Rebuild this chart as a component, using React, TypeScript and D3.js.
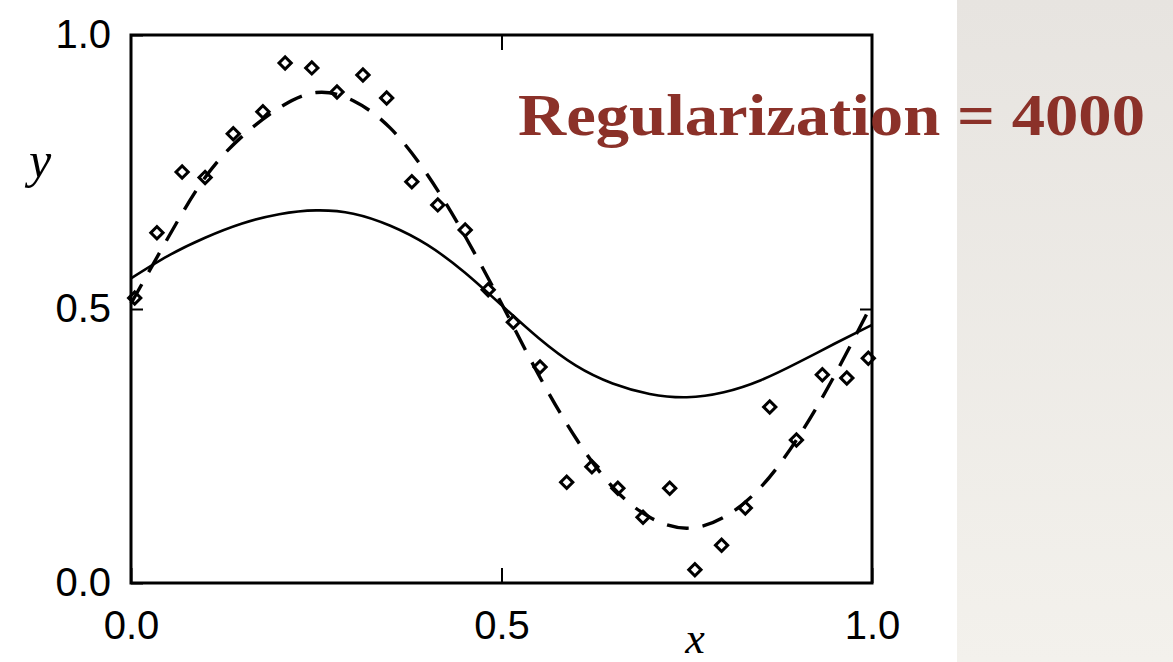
import React, { useEffect, useRef } from 'react';
import * as d3 from 'd3';

// canvas + plot box
const W = 1173;
const H = 662;
const plot = { left: 131, right: 872, top: 35, bottom: 583 };

// regularized fit (solid), sampled every 0.05
const fitX = [0, 0.05, 0.1, 0.15, 0.2, 0.25, 0.3, 0.35, 0.4, 0.45, 0.5, 0.55, 0.6, 0.65, 0.7, 0.75, 0.8, 0.85, 0.9, 0.95, 1.0];
const fitY = [0.556, 0.597, 0.63, 0.656, 0.673, 0.68, 0.674, 0.652, 0.617, 0.567, 0.507, 0.447, 0.397, 0.364, 0.345, 0.339, 0.348, 0.37, 0.402, 0.437, 0.471];

// underlying function (dashed)
const trueY = [0.51, 0.63, 0.74, 0.815, 0.867, 0.895, 0.88, 0.83, 0.745, 0.635, 0.51, 0.38, 0.265, 0.175, 0.12, 0.1, 0.12, 0.175, 0.265, 0.38, 0.51];

// noisy training points (diamonds)
const ptX = [0.005, 0.035, 0.069, 0.1, 0.138, 0.178, 0.208, 0.244, 0.278, 0.313, 0.345, 0.379, 0.414, 0.451, 0.482, 0.516, 0.552, 0.588, 0.622, 0.657, 0.691, 0.727, 0.761, 0.797, 0.829, 0.862, 0.898, 0.933, 0.966, 0.995];
const ptY = [0.52, 0.639, 0.75, 0.74, 0.82, 0.86, 0.949, 0.94, 0.896, 0.927, 0.885, 0.732, 0.69, 0.644, 0.535, 0.476, 0.394, 0.184, 0.212, 0.173, 0.12, 0.173, 0.024, 0.069, 0.137, 0.321, 0.261, 0.38, 0.374, 0.41];

const ticks = [0, 0.5, 1];
const title = 'Regularization = 4000';

export default function App() {
  const ref = useRef<SVGSVGElement>(null);

  useEffect(() => {
    const svg = d3.select(ref.current);
    svg.selectAll('*').remove();

    const x = d3.scaleLinear().domain([0, 1]).range([plot.left, plot.right]);
    const y = d3.scaleLinear().domain([0, 1]).range([plot.bottom, plot.top]);

    // paper background on the right
    const defs = svg.append('defs');
    const grad = defs.append('linearGradient').attr('id', 'paper').attr('x1', 0).attr('y1', 0).attr('x2', 0).attr('y2', 1);
    grad.append('stop').attr('offset', '0%').attr('stop-color', '#e7e4e0');
    grad.append('stop').attr('offset', '100%').attr('stop-color', '#f3f1ec');
    svg.append('rect').attr('width', W).attr('height', H).attr('fill', '#ffffff');
    svg.append('rect').attr('x', 957).attr('width', W - 957).attr('height', H).attr('fill', 'url(#paper)');

    const tickFont = '"Liberation Sans", Arial, sans-serif';

    // bottom axis with labels, ticks pointing in
    const bottom = svg.append('g').attr('transform', `translate(0,${plot.bottom})`)
      .call(d3.axisBottom(x).tickValues(ticks).tickSizeInner(-15).tickSizeOuter(0).tickPadding(28).tickFormat(d3.format('.1f')));
    bottom.select('.domain').remove();
    bottom.selectAll('.tick line').attr('stroke', '#000').attr('stroke-width', 2);
    bottom.selectAll('.tick text').attr('font-family', tickFont).attr('font-size', 40).attr('fill', '#000').attr('dy', '0.71em');

    const left = svg.append('g').attr('transform', `translate(${plot.left},0)`)
      .call(d3.axisLeft(y).tickValues(ticks).tickSizeInner(-12).tickSizeOuter(0).tickPadding(20).tickFormat(d3.format('.1f')));
    left.select('.domain').remove();
    left.selectAll('.tick line').attr('stroke', '#000').attr('stroke-width', 2);
    left.selectAll('.tick text').attr('font-family', tickFont).attr('font-size', 40).attr('fill', '#000');

    const top = svg.append('g').attr('transform', `translate(0,${plot.top})`)
      .call(d3.axisTop(x).tickValues([0.5]).tickSizeInner(-15).tickSizeOuter(0).tickFormat(() => ''));
    top.select('.domain').remove();
    top.selectAll('.tick line').attr('stroke', '#000').attr('stroke-width', 2);

    const right = svg.append('g').attr('transform', `translate(${plot.right},0)`)
      .call(d3.axisRight(y).tickValues([0.5]).tickSizeInner(-12).tickSizeOuter(0).tickFormat(() => ''));
    right.select('.domain').remove();
    right.selectAll('.tick line').attr('stroke', '#000').attr('stroke-width', 2);

    // frame
    svg.append('rect')
      .attr('x', plot.left).attr('y', plot.top)
      .attr('width', plot.right - plot.left).attr('height', plot.bottom - plot.top)
      .attr('fill', 'none').attr('stroke', '#000').attr('stroke-width', 3);

    const line = d3.line<number>().x((d, i) => x(fitX[i])).y(d => y(d)).curve(d3.curveNatural);

    svg.append('path').attr('d', line(trueY)).attr('fill', 'none')
      .attr('stroke', '#000').attr('stroke-width', 3.4).attr('stroke-dasharray', '22 14');
    svg.append('path').attr('d', line(fitY)).attr('fill', 'none')
      .attr('stroke', '#000').attr('stroke-width', 2.6);

    const diamond = d3.symbol().type(d3.symbolSquare).size(75);
    svg.append('g').selectAll('path').data(ptX).join('path')
      .attr('d', diamond)
      .attr('transform', (d, i) => `translate(${x(d)},${y(ptY[i])}) rotate(45)`)
      .attr('fill', 'none').attr('stroke', '#000').attr('stroke-width', 3);

    // axis letters
    svg.append('text').attr('x', 40).attr('y', 177).attr('text-anchor', 'middle')
      .attr('font-family', '"Liberation Serif", "Times New Roman", serif').attr('font-style', 'italic')
      .attr('font-size', 50).text('y');
    svg.append('text').attr('x', 695).attr('y', 653).attr('text-anchor', 'middle')
      .attr('font-family', '"Liberation Serif", "Times New Roman", serif').attr('font-style', 'italic')
      .attr('font-size', 44).text('x');

    svg.append('text').attr('x', 518).attr('y', 135)
      .attr('font-family', '"Palatino Linotype", "Book Antiqua", Palatino, "Liberation Serif", serif')
      .attr('font-weight', 'bold').attr('font-size', 60).attr('fill', '#8b3129')
      .attr('textLength', 627).attr('lengthAdjust', 'spacingAndGlyphs')
      .text(title);
  }, []);

  return (
    <svg ref={ref} width={W} height={H} style={{ position: 'absolute', left: 0, top: 0, display: 'block' }} />
  );
}
